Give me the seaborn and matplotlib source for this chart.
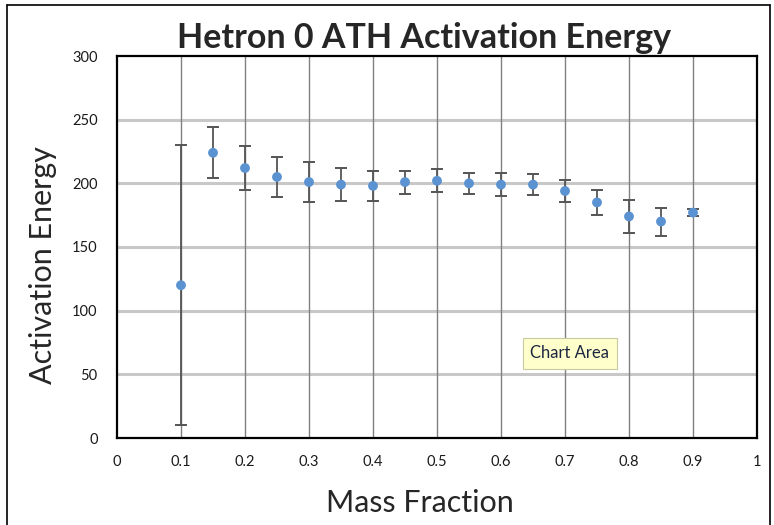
import matplotlib
matplotlib.use("Agg")
import matplotlib.pyplot as plt
import seaborn as sns
import pandas as pd
from matplotlib.lines import Line2D

mass_fraction = [0.1, 0.15, 0.2, 0.25, 0.3, 0.35, 0.4, 0.45, 0.5, 0.55, 0.6, 0.65, 0.7, 0.75, 0.8, 0.85, 0.9]
activation_energy = [120, 224, 212, 205, 201, 199, 198, 201, 202, 200, 199, 199, 194, 185, 174, 170, 177]
error = [110, 20, 17, 16, 16, 13, 12, 9, 9, 8, 9, 8, 9, 10, 13, 11, 3]
x_ticks = [0, 0.1, 0.2, 0.3, 0.4, 0.5, 0.6, 0.7, 0.8, 0.9, 1]
x_tick_labels = ["0", "0.1", "0.2", "0.3", "0.4", "0.5", "0.6", "0.7", "0.8", "0.9", "1"]
y_ticks = [0, 50, 100, 150, 200, 250, 300]

df = pd.DataFrame({"Mass Fraction": mass_fraction, "Activation Energy": activation_energy, "err": error})

sns.set_style("white")
plt.rcParams["font.family"] = ["Lato", "DejaVu Sans"]

W, H = 774, 525
fig = plt.figure(figsize=(W / 100, H / 100), dpi=100)
ax = fig.add_axes([117 / W, 1 - 438 / H, 640 / W, 382 / H])

# gridlines
for yv in y_ticks[1:-1]:
    ax.axhline(yv, color="#c8c8c8", lw=2.2, zorder=0)
for xv in x_ticks[1:-1]:
    ax.axvline(xv, color="#808080", lw=1.0, zorder=0.5)

ax.errorbar(df["Mass Fraction"], df["Activation Energy"], yerr=df["err"], fmt="none",
            ecolor="#555555", elinewidth=1.3, capsize=4, capthick=1.4, zorder=2)
sns.scatterplot(data=df, x="Mass Fraction", y="Activation Energy", ax=ax, color="#5b92d1",
                s=50, edgecolor="none", zorder=3)

ax.set_xlim(0, 1)
ax.set_ylim(0, 300)
ax.set_xticks(x_ticks)
ax.set_xticklabels(x_tick_labels)
ax.set_yticks(y_ticks)
ax.tick_params(axis="both", length=0, labelsize=10.5, colors="#1a1a1a")
ax.tick_params(axis="x", pad=12)
ax.tick_params(axis="y", pad=14)
for s in ax.spines.values():
    s.set_visible(True)
    s.set_color("#000000")
    s.set_linewidth(1.6)

ax.set_xlabel("Mass Fraction", fontsize=22)
ax.xaxis.label.set_va("center")
ax.xaxis.set_label_coords((420 - 117) / 640, -(503 - 438) / 382)
ax.set_ylabel("Activation Energy", fontsize=22)
ax.yaxis.set_label_coords(-(117 - 57) / 640, (438 - 265) / 382)
fig.text(424 / W, 1 - 38 / H, "Hetron 0 ATH Activation Energy",
         ha="center", va="center", fontsize=24.5, fontweight="bold")

# outer frame (bottom edge runs off the image)
frame_kw = dict(color="black", lw=1.2, transform=fig.transFigure)
fig.lines.append(Line2D([7 / W, 7 / W], [0, 1 - 5 / H], **frame_kw))
fig.lines.append(Line2D([7 / W, 770 / W], [1 - 5 / H, 1 - 5 / H], **frame_kw))
fig.lines.append(Line2D([770 / W, 770 / W], [0, 1 - 5 / H], **frame_kw))

# tooltip
fig.text(570 / W, 1 - 353 / H, "Chart Area", ha="center", va="center", fontsize=12,
         color="#1c2640",
         bbox=dict(boxstyle="square,pad=0.45", facecolor="#ffffcc", edgecolor="#c9c9a0", lw=0.8))

fig.savefig("out.png", dpi=100)
